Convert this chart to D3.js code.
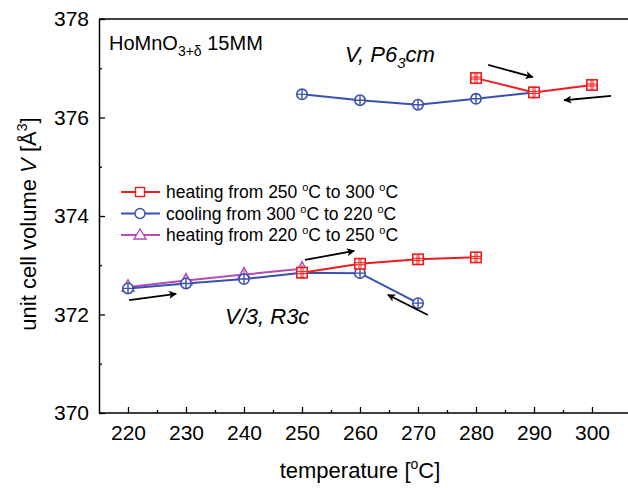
<!DOCTYPE html>
<html>
<head>
<meta charset="utf-8">
<script src="https://cdn.jsdelivr.net/npm/d3@7"></script>
<style>
  body { margin: 0; background: #fff; }
  svg { display: block; font-family: "Liberation Sans", Arial, sans-serif; }
</style>
</head>
<body>
<svg id="chart" width="628" height="488"></svg>
<script>
// heating 250 -> 300 (two branches, R3c and P6_3cm)
const heatLowT = [250, 260, 270, 280];
const heatLowV = [372.85, 373.03, 373.12, 373.16];
const heatHighT = [280, 290, 300];
const heatHighV = [376.80, 376.51, 376.66];
// cooling 300 -> 220
const coolHighT = [250, 260, 270, 280, 290];
const coolHighV = [376.47, 376.35, 376.26, 376.38, 376.51];
const coolLowT = [220, 230, 240, 250, 260, 270];
const coolLowV = [372.53, 372.63, 372.72, 372.85, 372.84, 372.23];
// heating 220 -> 250
const heat2T = [220, 230, 240, 250];
const heat2V = [372.56, 372.69, 372.81, 372.93];

const xTicks = [220, 230, 240, 250, 260, 270, 280, 290, 300];
const yTicks = [370, 372, 374, 376, 378];

// arrows in data units: [T1, V1, T2, V2]
const arrows = [
    [282.1, 377.07, 289.8, 376.82],
    [303.3, 376.44, 295.2, 376.35],
    [250.5, 373.11, 259.0, 373.29],
    [220.2, 372.29, 228.3, 372.42],
    [271.7, 371.99, 264.8, 372.40]
];

const red = "#f21b1b", blue = "#3a4fae", magenta = "#b44cb4";

const svg = d3.select("#chart");
const margin = { left: 99, top: 19 };
const x = d3.scaleLinear().domain([215, 305]).range([margin.left, margin.left + 522]);
const y = d3.scaleLinear().domain([370, 378]).range([413, margin.top]);

svg.append("defs").append("marker")
    .attr("id", "ah")
    .attr("viewBox", "0 0 10 10")
    .attr("refX", 9).attr("refY", 5)
    .attr("markerWidth", 11).attr("markerHeight", 8)
    .attr("markerUnits", "userSpaceOnUse")
    .attr("orient", "auto")
    .append("path")
    .attr("d", "M0,0 L10,5 L0,10 L2.5,5 Z")
    .attr("fill", "#000");

// frame: top line running off the right edge
svg.append("line")
    .attr("x1", x(215)).attr("x2", 700)
    .attr("y1", y(378)).attr("y2", y(378))
    .attr("stroke", "#000").attr("stroke-width", 1.5);

// axes
const xAxis = svg.append("g")
    .attr("transform", `translate(0,${y(370)})`)
    .call(d3.axisBottom(x).tickValues(xTicks).tickSizeInner(-6).tickSizeOuter(0).tickPadding(12));
svg.append("g")
    .attr("transform", `translate(0,${y(370)})`)
    .call(d3.axisBottom(x).tickValues(d3.range(225, 305, 10)).tickSize(-3).tickFormat(""))
    .select(".domain").remove();
svg.append("line")
    .attr("x1", x(215)).attr("x2", 700)
    .attr("y1", y(370)).attr("y2", y(370))
    .attr("stroke", "#000").attr("stroke-width", 1.5);
xAxis.select(".domain").remove();

const yAxis = svg.append("g")
    .attr("transform", `translate(${x(215)},0)`)
    .call(d3.axisLeft(y).tickValues(yTicks).tickSizeInner(-6).tickSizeOuter(0).tickPadding(10));
svg.append("g")
    .attr("transform", `translate(${x(215)},0)`)
    .call(d3.axisLeft(y).tickValues([371, 373, 375, 377]).tickSize(-3).tickFormat(""))
    .select(".domain").remove();

svg.selectAll(".tick line").attr("stroke-width", 1.3);
svg.selectAll(".domain").attr("stroke-width", 1.5);
xAxis.selectAll("text").attr("font-size", 21).attr("fill", "#000");
yAxis.selectAll("text").attr("font-size", 21).attr("fill", "#000");

// axis titles
const xl = svg.append("text")
    .attr("x", 360).attr("y", 478)
    .attr("text-anchor", "middle").attr("font-size", 22);
xl.append("tspan").text("temperature [");
xl.append("tspan").text("o").attr("font-size", 14).attr("dy", -9);
xl.append("tspan").text("C]").attr("dy", 9);

const yl = svg.append("text")
    .attr("transform", "translate(36,224) rotate(-90)")
    .attr("text-anchor", "middle").attr("font-size", 22);
yl.append("tspan").text("unit cell volume ");
yl.append("tspan").text("V").attr("font-style", "italic");
yl.append("tspan").text(" [Å");
yl.append("tspan").text("3").attr("font-size", 14).attr("dy", -9);
yl.append("tspan").text("]").attr("dy", 9);

// lines
const line = d3.line().x(d => x(d[0])).y(d => y(d[1]));
function series(ts, vs, color) {
    const pts = ts.map((t, i) => [t, vs[i]]);
    svg.append("path")
        .attr("d", line(pts))
        .attr("fill", "none").attr("stroke", color).attr("stroke-width", 2);
    return pts;
}

function drawMarkers(pts, shape, color) {
    const g = svg.append("g");
    pts.forEach(p => {
        const cx = x(p[0]), cy = y(p[1]);
        if (shape === "circle") {
            g.append("circle").attr("cx", cx).attr("cy", cy).attr("r", 5.2)
                .attr("fill", "#fff").attr("stroke", color).attr("stroke-width", 1.6);
            g.append("path").attr("d", `M${cx - 5},${cy}H${cx + 5}M${cx},${cy - 5}V${cy + 5}`)
                .attr("stroke", color).attr("stroke-width", 1.4);
        } else if (shape === "square") {
            g.append("rect").attr("x", cx - 5.2).attr("y", cy - 5.2).attr("width", 10.4).attr("height", 10.4)
                .attr("fill", "#fff").attr("stroke", color).attr("stroke-width", 1.6);
            g.append("path").attr("d", `M${cx - 5},${cy - 1}H${cx + 5}M${cx - 5},${cy + 1}H${cx + 5}M${cx - 1},${cy - 5}V${cy + 5}M${cx + 1},${cy - 5}V${cy + 5}`)
                .attr("stroke", color).attr("stroke-width", 1);
        } else {
            g.append("path").attr("d", `M${cx},${cy - 7}L${cx + 6},${cy + 4}L${cx - 6},${cy + 4}Z`)
                .attr("fill", "#fff").attr("stroke", color).attr("stroke-width", 1.5);
            g.append("path").attr("d", `M${cx - 4},${cy}H${cx + 4}M${cx},${cy - 4}V${cy + 4}`)
                .attr("stroke", color).attr("stroke-width", 1.2);
        }
    });
}

const pHeat2 = series(heat2T, heat2V, magenta);
const pCoolLow = series(coolLowT, coolLowV, blue);
const pCoolHigh = series(coolHighT, coolHighV, blue);
const pHeatLow = series(heatLowT, heatLowV, red);
const pHeatHigh = series(heatHighT, heatHighV, red);
drawMarkers(pHeat2, "triangle", magenta);
drawMarkers(pCoolLow, "circle", blue);
drawMarkers(pCoolHigh, "circle", blue);
drawMarkers(pHeatLow, "square", red);
drawMarkers(pHeatHigh, "square", red);

// arrows
arrows.forEach(a => {
    svg.append("line")
        .attr("x1", x(a[0])).attr("y1", y(a[1]))
        .attr("x2", x(a[2])).attr("y2", y(a[3]))
        .attr("stroke", "#000").attr("stroke-width", 1.8)
        .attr("marker-end", "url(#ah)");
});

// labels
const t1 = svg.append("text").attr("x", 109).attr("y", 50).attr("font-size", 20);
t1.append("tspan").text("HoMnO");
t1.append("tspan").text("3+δ").attr("font-size", 14).attr("dy", 6);
t1.append("tspan").text(" 15MM").attr("dy", -6);

const t2 = svg.append("text").attr("x", 345).attr("y", 62).attr("font-size", 22).attr("font-style", "italic");
t2.append("tspan").text("V, P6");
t2.append("tspan").text("3").attr("font-size", 15).attr("dy", 6);
t2.append("tspan").text("cm").attr("dy", -6);

svg.append("text").attr("x", 225).attr("y", 324).attr("font-size", 22).attr("font-style", "italic")
    .text("V/3, R3c");

// legend
const legend = [
    { label: ["heating from 250 ", "C to 300 ", "C"], color: red, shape: "square" },
    { label: ["cooling from 300 ", "C to 220 ", "C"], color: blue, shape: "circle" },
    { label: ["heating from 220 ", "C to 250 ", "C"], color: magenta, shape: "triangle" }
];
legend.forEach((d, i) => {
    const ly = 192 + i * 21.5;
    svg.append("line").attr("x1", 121).attr("x2", 160).attr("y1", ly).attr("y2", ly)
        .attr("stroke", d.color).attr("stroke-width", 2);
    if (d.shape === "square") {
        svg.append("rect").attr("x", 135.5).attr("y", ly - 4.5).attr("width", 9).attr("height", 9)
            .attr("fill", "#fff").attr("stroke", d.color).attr("stroke-width", 1.4);
    } else if (d.shape === "circle") {
        svg.append("circle").attr("cx", 140).attr("cy", ly).attr("r", 5)
            .attr("fill", "#fff").attr("stroke", d.color).attr("stroke-width", 1.4);
    } else {
        svg.append("path").attr("d", `M140,${ly - 6}L146,${ly + 4}L134,${ly + 4}Z`)
            .attr("fill", "#fff").attr("stroke", d.color).attr("stroke-width", 1.4);
    }
    const tx = svg.append("text").attr("x", 166).attr("y", ly + 6).attr("font-size", 17.5);
    tx.append("tspan").text(d.label[0]);
    tx.append("tspan").text("o").attr("font-size", 11).attr("dy", -7);
    tx.append("tspan").text(d.label[1]).attr("dy", 7);
    tx.append("tspan").text("o").attr("font-size", 11).attr("dy", -7);
    tx.append("tspan").text(d.label[2]).attr("dy", 7);
});
</script>
</body>
</html>
